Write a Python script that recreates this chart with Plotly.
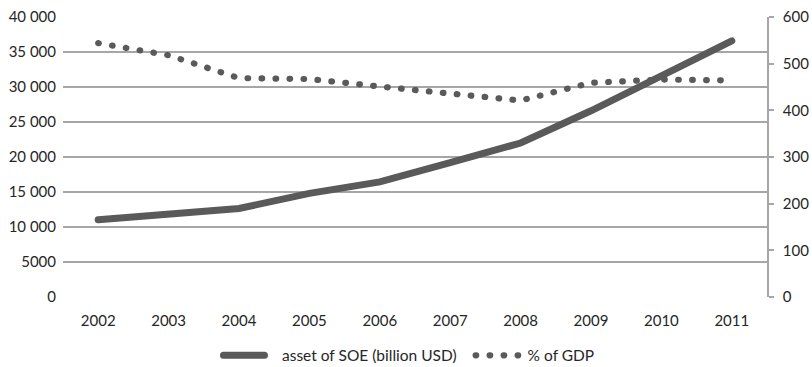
import plotly.graph_objects as go

years = ["2002", "2003", "2004", "2005", "2006", "2007", "2008", "2009", "2010", "2011"]
asset_soe = [11050, 11800, 12650, 14800, 16450, 19200, 22000, 26600, 31600, 36600]
pct_gdp = [544, 518, 469, 467, 451, 436, 421, 459, 466, 464]

left_tickvals = [0, 5000, 10000, 15000, 20000, 25000, 30000, 35000, 40000]
left_ticktext = ["0", "5000", "10 000", "15 000", "20 000", "25 000", "30 000", "35 000", "40 000"]
right_tickvals = [0, 100, 200, 300, 400, 500, 600]

line_color = "#5a5a5a"
grid_color = "#a6a6a6"
text_color = "#262626"
font_family = "Lato, 'Open Sans', sans-serif"

fig = go.Figure()
fig.add_trace(go.Scatter(
    x=years, y=asset_soe, name="asset of SOE (billion USD)",
    mode="lines", line=dict(color=line_color, width=7),
    yaxis="y",
))
fig.add_trace(go.Scatter(
    x=years, y=pct_gdp, name="% of GDP",
    mode="lines", line=dict(color=line_color, width=6.2, dash="0.6px,13.4px"),
    yaxis="y2",
))

fig.update_layout(
    width=812, height=367,
    margin=dict(l=63, r=45, t=17, b=70, autoexpand=False),
    paper_bgcolor="white", plot_bgcolor="white",
    font=dict(family=font_family, size=15, color=text_color),
    showlegend=True,
    legend=dict(orientation="h", x=0.49, xanchor="center", y=-0.21, yanchor="middle",
                font=dict(size=15.5, color=text_color), itemwidth=56,
                traceorder="normal", bgcolor="rgba(0,0,0,0)"),
    xaxis=dict(type="category", range=[-0.5, 9.5], showgrid=False, showline=False,
               ticks="", tickfont=dict(size=15), zeroline=False, fixedrange=True,
               ticklabelstandoff=13),
    yaxis=dict(range=[0, 40000], tickvals=left_tickvals, ticktext=left_ticktext,
               showgrid=True, gridcolor=grid_color, gridwidth=1.5, zeroline=False,
               showline=False, ticks="", ticklabelstandoff=6, tickfont=dict(size=15)),
    yaxis2=dict(range=[0, 600], tickvals=right_tickvals, overlaying="y", side="right",
                showgrid=False, zeroline=False, showline=True, linecolor=grid_color,
                linewidth=1.5, ticks="outside", ticklen=5, tickcolor=grid_color,
                tickwidth=1.5, ticklabelstandoff=6, tickfont=dict(size=15)),
)

post = """
(function(){
  function fix(){
    document.querySelectorAll('path.js-line').forEach(function(p){
      p.style.strokeLinecap = 'round';
    });
    document.querySelectorAll('.legend .traces').forEach(function(g){
      var t = g.querySelector('text.legendtext');
      var tx = t ? parseFloat(t.getAttribute('x')) : NaN;
      g.querySelectorAll('.legendlines path').forEach(function(p){
        p.style.strokeLinecap = 'round';
        if (!isNaN(tx)) {
          var dashed = p.style.strokeDasharray && p.style.strokeDasharray !== 'none';
          if (dashed) {
            p.setAttribute('d', 'M' + (tx - 52) + ',0h44');
          } else {
            p.setAttribute('d', 'M' + (tx - 58.5) + ',0h41');
          }
        }
      });
    });
  }
  fix();
  setTimeout(fix, 50);
})();
"""
fig.write_html("out.html", post_script=post)
